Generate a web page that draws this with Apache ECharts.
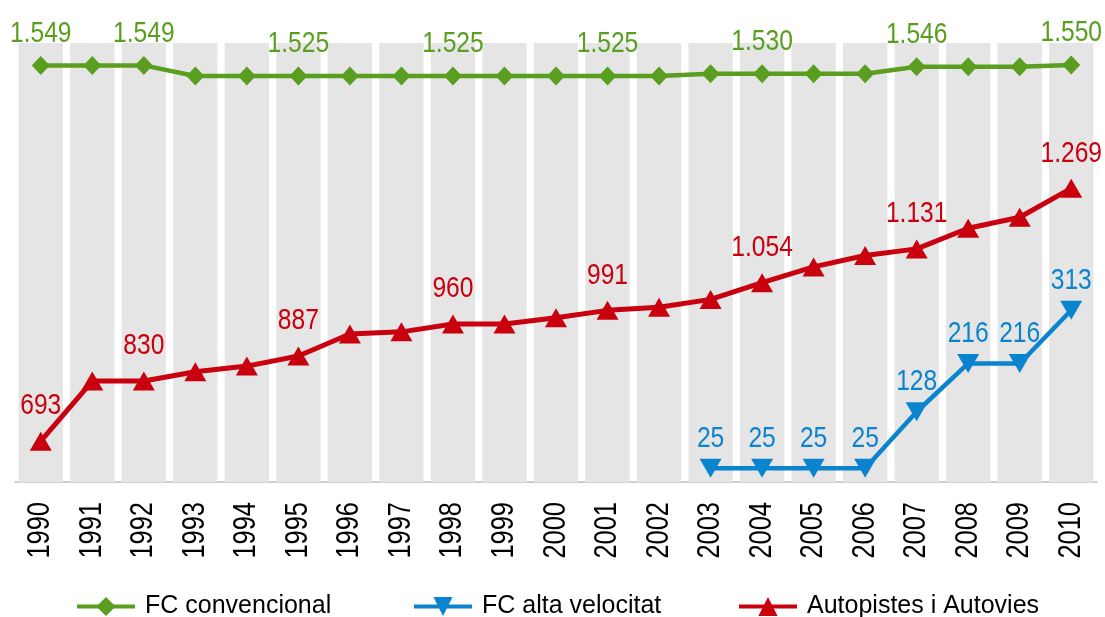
<!DOCTYPE html>
<html>
<head>
<meta charset="utf-8">
<script src="https://cdn.jsdelivr.net/npm/echarts@6/dist/echarts.min.js"></script>
<style>
html,body{margin:0;padding:0;background:#fff;}
#chart{width:1105px;height:617px;}
</style>
</head>
<body>
<div id="chart"></div>
<script>
const years = ['1990','1991','1992','1993','1994','1995','1996','1997','1998','1999','2000','2001','2002','2003','2004','2005','2006','2007','2008','2009','2010'];
const fcConvencional = [1549,1549,1549,1525,1525,1525,1525,1525,1525,1525,1525,1525,1525,1530,1530,1530,1530,1546,1546,1546,1550];
const fcAltaVelocitat = [null,null,null,null,null,null,null,null,null,null,null,null,null,25,25,25,25,128,216,216,313];
const autopistes = [693,830,830,851,864,887,937,942,960,960,974,991,998,1016,1054,1090,1116,1131,1178,1203,1269];
const labeledYears = ['1990','1992','1995','1998','2001','2004','2007','2010'];
const bandTop = 800;

const FONT = "'Liberation Sans', Arial, sans-serif";
const NARROW = 0.82;
const GREEN = '#5a9e1f', BLUE = '#0b84cf', RED = '#c9000e';

function fmt(v){ return String(v).replace(/\B(?=(\d{3})+(?!\d))/g, '.'); }

function labelData(values, onlyLabeled){
  const out = [];
  values.forEach((v, i) => {
    if (v == null) return;
    if (onlyLabeled && labeledYears.indexOf(years[i]) < 0) return;
    out.push([years[i], v]);
  });
  return out;
}

function valueLabelSeries(values, onlyLabeled, color, yAxisIndex, offset){
  return {
    type: 'custom', yAxisIndex: yAxisIndex, silent: true, clip: false, z: 10,
    data: labelData(values, onlyLabeled),
    renderItem: function(params, api){
      const pt = api.coord([api.value(0), api.value(1)]);
      return {
        type: 'text', x: pt[0], y: pt[1] - offset, scaleX: NARROW,
        style: {text: fmt(api.value(1)), fill: color, font: '30px ' + FONT, align: 'center', verticalAlign: 'middle'}
      };
    }
  };
}

const chart = echarts.init(document.getElementById('chart'));
chart.setOption({
  animation: false,
  grid: {left: 15, right: 8, top: 43, bottom: 135},
  xAxis: {
    type: 'category', data: years, boundaryGap: true,
    axisLine: {lineStyle: {color: '#bfbfbf', width: 1.5}},
    axisTick: {alignWithLabel: true, length: 12, lineStyle: {color: '#bfbfbf', width: 1.5}},
    axisLabel: {show: false}
  },
  yAxis: [
    {type: 'value', min: 600, max: 1600, show: false},
    {type: 'value', min: 0, max: 800, show: false}
  ],
  legend: [
    {data: ['FC convencional'], left: 70, top: 589, itemWidth: 58, itemHeight: 24,
     lineStyle: {width: 4}, textStyle: {fontSize: 25, fontFamily: FONT, color: '#000', padding: [0,0,0,5]}},
    {data: ['FC alta velocitat'], left: 407, top: 589, itemWidth: 58, itemHeight: 24,
     lineStyle: {width: 4}, textStyle: {fontSize: 25, fontFamily: FONT, color: '#000', padding: [0,0,0,5]}},
    {data: ['Autopistes i Autovies'], left: 732, top: 589, itemWidth: 58, itemHeight: 24,
     lineStyle: {width: 4}, textStyle: {fontSize: 25, fontFamily: FONT, color: '#000', padding: [0,0,0,5]}}
  ],
  series: [
    {
      name: 'band', type: 'bar', yAxisIndex: 1, data: years.map(() => bandTop),
      barWidth: '86%', itemStyle: {color: '#e5e5e5'}, silent: true, z: 0
    },
    {
      name: 'FC convencional', type: 'line', data: fcConvencional, yAxisIndex: 0,
      symbol: 'diamond', symbolSize: [18, 19], lineStyle: {color: GREEN, width: 4.5},
      itemStyle: {color: GREEN}, z: 3
    },
    {
      name: 'FC alta velocitat', type: 'line', data: fcAltaVelocitat, yAxisIndex: 1,
      symbol: 'triangle', symbolRotate: 180, symbolSize: [22, 19], lineStyle: {color: BLUE, width: 4.5},
      itemStyle: {color: BLUE}, z: 3
    },
    {
      name: 'Autopistes i Autovies', type: 'line', data: autopistes, yAxisIndex: 0,
      symbol: 'triangle', symbolSize: [22, 19], lineStyle: {color: RED, width: 5},
      itemStyle: {color: RED}, z: 3
    },
    valueLabelSeries(fcConvencional, true, GREEN, 0, 32),
    valueLabelSeries(fcAltaVelocitat, false, BLUE, 1, 30),
    valueLabelSeries(autopistes, true, RED, 0, 35),
    {
      type: 'custom', yAxisIndex: 0, silent: true, clip: false, z: 10,
      data: years.map(y => [y, 600]),
      renderItem: function(params, api){
        const pt = api.coord([api.value(0), api.value(1)]);
        return {
          type: 'text', x: pt[0], y: pt[1] + 20, rotation: Math.PI / 2, scaleX: NARROW,
          style: {text: years[params.dataIndex], fill: '#000', font: '31px ' + FONT, align: 'right', verticalAlign: 'middle'}
        };
      }
    }
  ]
});
</script>
</body>
</html>
